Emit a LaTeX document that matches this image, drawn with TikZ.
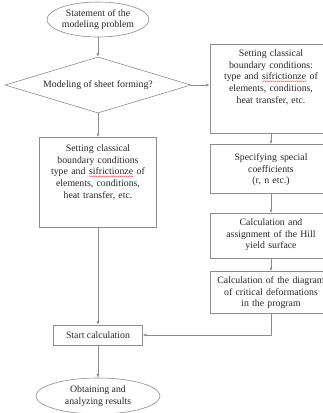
\documentclass[tikz,border=0pt]{standalone}
\usepackage{fontspec}
\setmainfont{Liberation Serif}
\usetikzlibrary{shapes.geometric,arrows.meta,decorations.pathmorphing}

\newcommand{\typo}[1]{\tikz[baseline=(w.base)]{\node[inner sep=0pt,text width=,text height=,text depth=,draw=none] (w) {#1}; \draw[red!75,line width=0.3pt,decorate,decoration={snake,amplitude=0.5pt,segment length=2pt}] ([yshift=-1.3pt]w.south west) -- ([yshift=-1.3pt]w.south east);}}

\begin{document}
\begin{tikzpicture}[x=1pt,y=-1pt,
	every node/.style={font=\fontsize{9.8}{11.7}\selectfont,text=black!85},
	gline/.style={draw=black!45,line width=0.6pt},
	flow/.style={gline,-{Latex[length=3.5pt,width=3pt]}},
	term/.style={ellipse,gline,inner sep=0pt,align=center},
	box/.style={rectangle,gline,inner xsep=6pt,inner ysep=0pt,align=center}]
	\useasboundingbox (0,0) rectangle (323,413);
	\clip (0,0) rectangle (323,413);
	\node[term,minimum width=102pt,minimum height=35pt] (start) at (98,19.5) {Statement of the\\modeling problem};
	\node[diamond,gline,aspect=3.3,inner sep=0pt,minimum width=186pt,minimum height=56pt] (sheet) at (98,85) {Modeling of sheet forming?};
	\node[box,anchor=north,text width=110pt,text height=12pt,text depth=77pt] (bcR) at (271,44) {Setting classical\\boundary conditions:\\type and \typo{sifrictionze} of\\elements, conditions,\\heat transfer, etc.};
	\node[box,anchor=north,text width=110pt,text height=16pt,text depth=33pt] (coef) at (271,144) {Specifying special\\coefficients\\(r, n etc.)};
	\node[box,anchor=north,text width=110pt,text height=12pt,text depth=33pt] (hill) at (271,213) {Calculation and\\assignment of the Hill\\yield surface};
	\node[box,anchor=north,text width=110pt,text height=12pt,text depth=30pt] (diag) at (271,271) {Calculation of the diagram\\of critical deformations\\in the program};
	\node[box,anchor=north,text width=105pt,text height=14pt,text depth=76pt] (bcL) at (98,137) {Setting classical\\boundary conditions\\type and \typo{sifrictionze} of\\elements, conditions,\\heat transfer, etc.};
	\node[box,minimum width=89pt,minimum height=20pt] (calc) at (98,335) {Start calculation};
	\node[term,minimum width=124pt,minimum height=36pt] (result) at (98,396) {Obtaining and\\analyzing results};
	\draw[flow] (start) -- (sheet);
	\draw[flow] (sheet.east) -- (sheet.east -| bcR.west);
	\draw[flow] (sheet) -- (bcL);
	\draw[flow] (bcR) -- (coef);
	\draw[flow] (coef) -- (hill);
	\draw[flow] (hill) -- (diag);
	\draw[flow] (bcL) -- (calc);
	\draw[flow] (diag.south) |- (calc.east);
	\draw[flow] (calc) -- (result);
\end{tikzpicture}
\end{document}
